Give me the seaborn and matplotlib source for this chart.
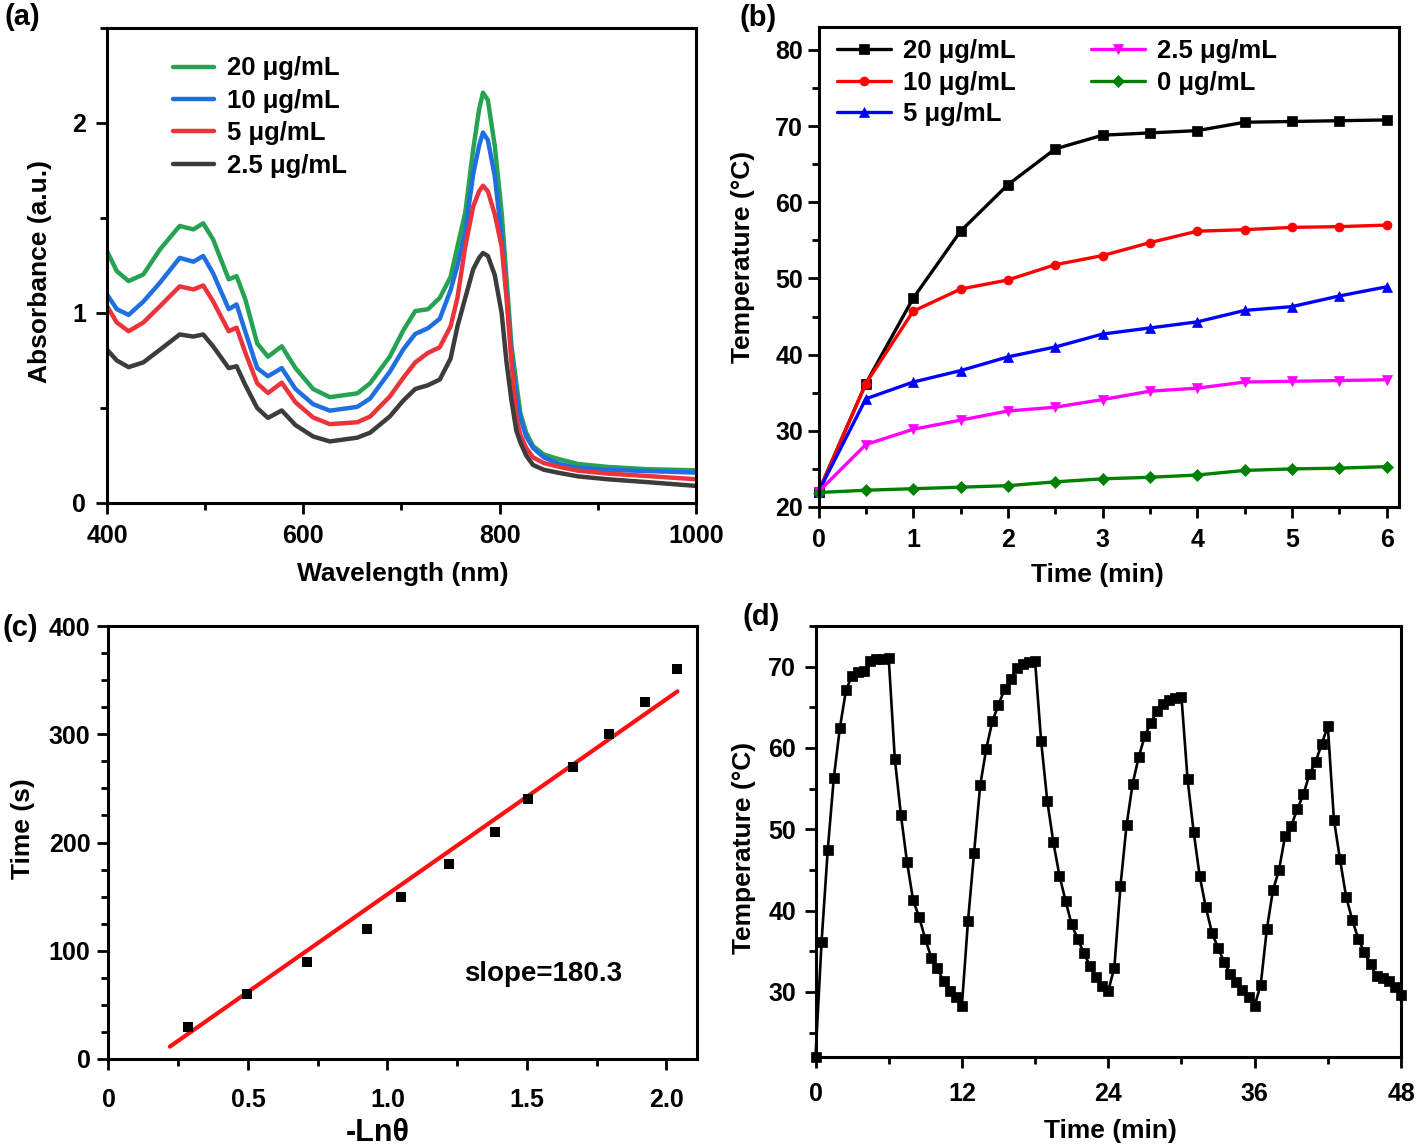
import numpy as np
import pandas as pd
import seaborn as sns
from matplotlib import pyplot as plt
from matplotlib.ticker import MultipleLocator

sns.set_theme(style='ticks')
plt.rcParams['font.family'] = ['Liberation Sans', 'DejaVu Sans']
plt.rcParams['font.weight'] = 'bold'
plt.rcParams['axes.labelweight'] = 'bold'
plt.rcParams['text.color'] = 'black'
plt.rcParams['axes.labelcolor'] = 'black'
plt.rcParams['xtick.color'] = 'black'
plt.rcParams['ytick.color'] = 'black'

# ---------------- data ----------------
# (a) absorbance spectra
wavelength = [400, 410, 422, 437, 454, 474, 488, 498, 508, 524, 532, 541, 553, 564, 578, 592,
              610, 627, 655, 668, 688, 702, 714, 727, 739, 750, 757, 765, 773, 779, 783, 788,
              795, 802, 807, 812, 817, 821, 827, 834, 845, 861, 880, 910, 950, 1000]
abs_20 = [1.326, 1.22, 1.168, 1.203, 1.335, 1.458, 1.44, 1.472, 1.388, 1.177, 1.194, 1.07, 0.84, 0.77,
          0.825, 0.71, 0.60, 0.557, 0.577, 0.63, 0.77, 0.91, 1.01, 1.02, 1.08, 1.19, 1.35, 1.53, 1.86,
          2.07, 2.16, 2.12, 1.88, 1.53, 1.18, 0.83, 0.63, 0.475, 0.37, 0.30, 0.255, 0.23, 0.205, 0.19,
          0.178, 0.172]
abs_10 = [1.098, 1.02, 0.99, 1.06, 1.16, 1.29, 1.27, 1.30, 1.21, 1.02, 1.045, 0.90, 0.71, 0.667,
          0.71, 0.60, 0.52, 0.486, 0.506, 0.55, 0.69, 0.81, 0.89, 0.92, 0.97, 1.12, 1.25, 1.43, 1.73,
          1.88, 1.95, 1.91, 1.72, 1.40, 1.10, 0.78, 0.56, 0.45, 0.35, 0.29, 0.24, 0.205, 0.185, 0.175,
          0.168, 0.16]
abs_5 = [1.036, 0.95, 0.904, 0.95, 1.036, 1.14, 1.124, 1.145, 1.062, 0.904, 0.923, 0.79, 0.63, 0.579,
         0.633, 0.53, 0.45, 0.415, 0.425, 0.455, 0.56, 0.66, 0.74, 0.79, 0.82, 0.93, 1.08, 1.35, 1.56,
         1.64, 1.67, 1.64, 1.52, 1.35, 1.08, 0.74, 0.45, 0.36, 0.29, 0.24, 0.21, 0.19, 0.17, 0.155,
         0.142, 0.125]
abs_2_5 = [0.807, 0.75, 0.715, 0.74, 0.807, 0.887, 0.876, 0.887, 0.825, 0.71, 0.72, 0.62, 0.50, 0.448,
           0.487, 0.41, 0.35, 0.324, 0.344, 0.37, 0.455, 0.54, 0.60, 0.62, 0.65, 0.76, 0.93, 1.08, 1.23,
           1.29, 1.316, 1.30, 1.20, 1.00, 0.74, 0.54, 0.38, 0.32, 0.25, 0.20, 0.175, 0.158, 0.14, 0.125,
           0.11, 0.09]
spec_labels = ['20 μg/mL', '10 μg/mL', '5 μg/mL', '2.5 μg/mL']
spec_colors = ['#25a352', '#1f6fe0', '#eb3339', '#3c3c3c']

# (b) heating curves
time_b = [0, 0.5, 1, 1.5, 2, 2.5, 3, 3.5, 4, 4.5, 5, 5.5, 6]
temp_20 = [22.0, 36.2, 47.4, 56.2, 62.3, 67.0, 68.8, 69.1, 69.4, 70.5, 70.6, 70.7, 70.8]
temp_10 = [22.0, 36.2, 45.7, 48.6, 49.8, 51.8, 53.0, 54.7, 56.2, 56.4, 56.7, 56.8, 57.0]
temp_5 = [22.0, 34.2, 36.4, 37.9, 39.7, 41.0, 42.7, 43.5, 44.3, 45.8, 46.3, 47.7, 48.9]
temp_2_5 = [22.0, 28.2, 30.2, 31.4, 32.6, 33.1, 34.1, 35.2, 35.6, 36.4, 36.5, 36.6, 36.7]
temp_0 = [21.9, 22.2, 22.4, 22.6, 22.8, 23.3, 23.7, 23.9, 24.2, 24.8, 25.0, 25.1, 25.3]
heat_labels = ['20 μg/mL', '10 μg/mL', '5 μg/mL', '2.5 μg/mL', '0 μg/mL']
heat_colors = ['black', '#ff0000', '#0000ff', '#ff00ff', '#008000']
heat_markers = ['s', 'o', '^', 'v', 'D']

# (c) time constant fit
ln_theta = [0.285, 0.495, 0.711, 0.928, 1.047, 1.22, 1.385, 1.505, 1.664, 1.794, 1.922, 2.038]
time_s = [30, 60, 90, 120, 150, 180, 210, 240, 270, 300, 330, 360]
fit_slope = 180.3
fit_intercept = -28.2
fit_range = [0.22, 2.04]

# (d) on/off cycles
time_d = np.arange(0, 48.5, 0.5)
temp_d = [22.0, 36.2, 47.4, 56.3, 62.5, 67.1, 68.9, 69.3, 69.5, 70.7, 70.9, 71.0, 71.1,
          58.7, 51.8, 46.0, 41.3, 39.2, 36.5, 34.2, 32.9, 31.3, 30.1, 29.4, 28.3,
          38.7, 47.1, 55.4, 59.9, 63.3, 65.3, 67.2, 68.5, 69.8, 70.3, 70.6, 70.7,
          60.8, 53.5, 48.4, 44.3, 41.2, 38.3, 36.5, 34.8, 33.2, 31.8, 30.7, 30.1,
          33.0, 43.0, 50.5, 55.6, 58.9, 61.5, 63.1, 64.6, 65.4, 65.9, 66.2, 66.3,
          56.2, 49.7, 44.2, 40.4, 37.3, 35.4, 33.7, 32.2, 31.2, 30.2, 29.4, 28.3,
          30.9, 37.7, 42.5, 45.0, 49.2, 50.4, 52.5, 54.3, 56.8, 58.3, 60.5, 62.7,
          51.2, 46.3, 41.7, 38.9, 36.5, 34.9, 33.4, 31.9, 31.7, 31.3, 30.6, 29.6]

W, H = 1416, 1148
fig = plt.figure(figsize=(W / 100, H / 100), dpi=100)


def px_axes(left, top, right, bottom):
    return fig.add_axes([left / W, 1 - bottom / H, (right - left) / W, (bottom - top) / H])


def style(ax, xpad=7, ypad=5, size=18):
    for s in ax.spines.values():
        s.set_linewidth(2.2)
        s.set_color('black')
    ax.tick_params(which='major', direction='out', length=8, width=2, color='black',
                   labelsize=size, labelcolor='black')
    ax.tick_params(which='minor', direction='out', length=5, width=2, color='black')
    ax.tick_params(axis='x', which='major', pad=xpad)
    ax.tick_params(axis='y', which='major', pad=ypad)
    ax.grid(False)


def labels(ax, xl, yl, xpos, ypos, xsize=19, ysize=19):
    ax.set_xlabel(xl, fontsize=xsize, fontweight='bold', va='center')
    ax.set_ylabel(yl, fontsize=ysize, fontweight='bold', va='center')
    ax.xaxis.set_label_coords(*xpos)
    ax.yaxis.set_label_coords(*ypos)


# ---------------- (a) ----------------
ax_a = px_axes(107, 28, 696, 503)
for vals, lab, col in zip([abs_20, abs_10, abs_5, abs_2_5], spec_labels, spec_colors):
    sns.lineplot(x=wavelength, y=vals, color=col, lw=3.2, label=lab, ax=ax_a, sort=False)
ax_a.set_xlim(400, 1000)
ax_a.set_ylim(0, 2.5)
ax_a.xaxis.set_major_locator(MultipleLocator(200))
ax_a.xaxis.set_minor_locator(MultipleLocator(100))
ax_a.yaxis.set_major_locator(MultipleLocator(1))
ax_a.yaxis.set_minor_locator(MultipleLocator(0.5))
style(ax_a, xpad=7, ypad=7)
labels(ax_a, 'Wavelength (nm)', 'Absorbance (a.u.)', (0.503, -0.149), (-0.114, 0.488))
ax_a.legend(loc='upper left', bbox_to_anchor=(0.1115, 0.94), frameon=False, fontsize=18.5,
            handlelength=1.6, handletextpad=0.5, labelspacing=0.33, borderaxespad=0, borderpad=0)

# ---------------- (b) ----------------
ax_b = px_axes(818.5, 27, 1399, 507)
for vals, lab, col, mk in zip([temp_20, temp_10, temp_5, temp_2_5, temp_0],
                              heat_labels, heat_colors, heat_markers):
    sns.lineplot(x=time_b, y=vals, color=col, lw=2.4, marker=mk, markersize=6.5,
                 markeredgecolor=col, markeredgewidth=0.5, label=lab, ax=ax_b, clip_on=False)
ax_b.set_xlim(0, 6.13)
ax_b.set_ylim(20, 83)
ax_b.xaxis.set_major_locator(MultipleLocator(1))
ax_b.xaxis.set_minor_locator(MultipleLocator(0.5))
ax_b.yaxis.set_major_locator(MultipleLocator(10))
ax_b.yaxis.set_minor_locator(MultipleLocator(5))
style(ax_b, xpad=7, ypad=3)
labels(ax_b, 'Time (min)', 'Temperature (°C)', (0.48, -0.142), (-0.13, 0.52))
ax_b.legend(loc='upper left', bbox_to_anchor=(0.032, 0.974), frameon=False, fontsize=18.5, ncol=2,
            handlelength=2.1, handletextpad=0.45, labelspacing=0.28, columnspacing=2.95,
            borderaxespad=0, borderpad=0)

# ---------------- (c) ----------------
ax_c = px_axes(108.5, 626, 697, 1059)
fit_x = np.array(fit_range)
sns.lineplot(x=fit_x, y=fit_slope * fit_x + fit_intercept, color='#ff1010', lw=3, ax=ax_c)
sns.scatterplot(x=ln_theta, y=time_s, marker='s', s=60, color='black', edgecolor='black',
                linewidth=0, ax=ax_c, zorder=3)
ax_c.text(1.274, 78.5, 'slope=180.3', fontsize=20, fontweight='bold', ha='left', va='center')
ax_c.set_xlim(0, 2.11)
ax_c.set_ylim(0, 400)
ax_c.set_xticks([0, 0.5, 1.0, 1.5, 2.0], ['0', '0.5', '1.0', '1.5', '2.0'])
ax_c.xaxis.set_minor_locator(MultipleLocator(0.25))
ax_c.yaxis.set_major_locator(MultipleLocator(100))
ax_c.yaxis.set_minor_locator(MultipleLocator(25))
style(ax_c, xpad=13, ypad=5)
labels(ax_c, '-Lnθ', 'Time (s)', (0.458, -0.171), (-0.145, 0.533), xsize=22)

# ---------------- (d) ----------------
ax_d = px_axes(815.5, 626, 1401, 1057)
sns.lineplot(x=time_d, y=temp_d, color='black', lw=1.9, marker='s', markersize=6.5,
             markeredgecolor='black', markeredgewidth=0.5, ax=ax_d, clip_on=False)
ax_d.set_xlim(0, 48)
ax_d.set_ylim(22, 75)
ax_d.xaxis.set_major_locator(MultipleLocator(12))
ax_d.xaxis.set_minor_locator(MultipleLocator(6))
ax_d.yaxis.set_major_locator(MultipleLocator(10))
ax_d.yaxis.set_minor_locator(MultipleLocator(5))
style(ax_d, xpad=10, ypad=6)
labels(ax_d, 'Time (min)', 'Temperature (°C)', (0.503, -0.172), (-0.122, 0.485))

# panel letters
for letter, x, y in [('(a)', 22, 17), ('(b)', 758, 18), ('(c)', 20, 628), ('(d)', 761, 617)]:
    fig.text(x / W, 1 - y / H, letter, fontsize=21, fontweight='bold', ha='center', va='center')

fig.savefig('out.png', dpi=100)
